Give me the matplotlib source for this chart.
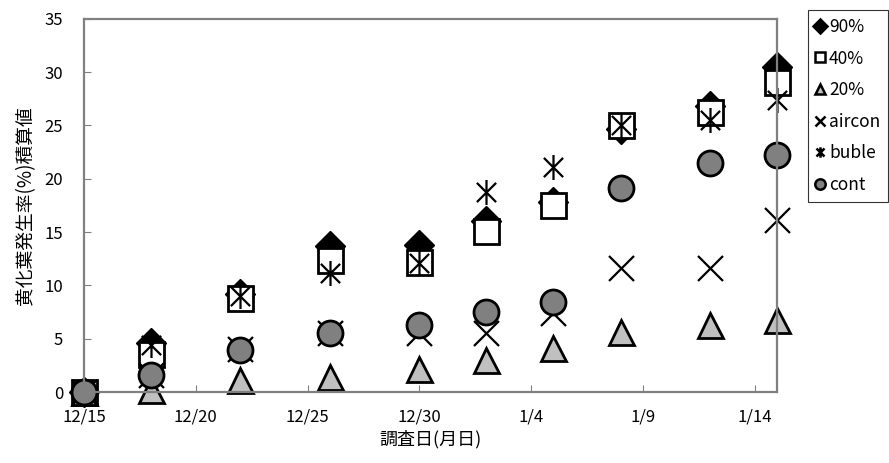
import datetime as dt
import matplotlib
matplotlib.use("Agg")
import matplotlib.pyplot as plt
from matplotlib.path import Path

plt.rcParams['font.family'] = ['Noto Sans CJK JP', 'DejaVu Sans']

# survey dates (month, day)
dates = [(12, 15), (12, 18), (12, 22), (12, 26), (12, 30),
         (1, 2), (1, 5), (1, 8), (1, 12), (1, 15)]

# cumulative yellowing rate (%) per treatment
v90 = [0, 4.6, 9.2, 13.7, 13.8, 16.0, 17.8, 24.7, 26.8, 30.5]
v40 = [0, 3.6, 8.8, 12.4, 12.2, 15.1, 17.5, 25.0, 26.3, 29.1]
v20 = [0, 0.2, 1.1, 1.4, 2.2, 3.0, 4.1, 5.6, 6.3, 6.8]
aircon = [0, 1.6, 4.0, 5.5, 5.5, 5.5, 7.4, 11.6, 11.6, 16.1]
buble = [0, 4.4, 9.0, 11.2, 12.1, 18.8, 21.1, 25.0, 25.5, 27.4]
cont = [0, 1.6, 3.9, 5.5, 6.3, 7.5, 8.4, 19.1, 21.5, 22.2]

tick_dates = [(12, 15), (12, 20), (12, 25), (12, 30), (1, 4), (1, 9), (1, 14)]
tick_labels = ['12/15', '12/20', '12/25', '12/30', '1/4', '1/9', '1/14']


def to_date(md):
    m, d = md
    return dt.date(2007 if m == 12 else 2008, m, d)


x = [to_date(d) for d in dates]

# asterisk marker: X with a vertical stroke
ast = Path([(-1, -1), (1, 1), (-1, 1), (1, -1), (0, -1.3), (0, 1.3)],
           [Path.MOVETO, Path.LINETO, Path.MOVETO, Path.LINETO,
            Path.MOVETO, Path.LINETO])

fig = plt.figure(figsize=(8.89, 4.63), dpi=100)
ax = fig.add_axes([0.0945, 0.1533, 0.7795, 0.806])

ms = 18
kw = dict(linestyle='none', clip_on=False)
ax.plot(x, v90, marker='D', ms=ms * 0.85, mfc='black', mec='black',
        label='90%', **kw)
ax.plot(x, v40, marker='s', ms=ms, mfc='white', mec='black', mew=2,
        label='40%', **kw)
ax.plot(x, v20, marker='^', ms=ms, mfc='#c0c0c0', mec='black', mew=2,
        label='20%', **kw)
ax.plot(x, aircon, marker='x', ms=ms, mec='black', mew=1.6,
        label='aircon', **kw)
ax.plot(x, buble, marker=ast, ms=ms, mec='black', mew=1.6,
        label='buble', **kw)
ax.plot(x, cont, marker='o', ms=ms, mfc='#808080', mec='black', mew=2,
        label='cont', **kw)

ax.set_xlim(to_date((12, 15)), to_date((1, 15)))
ax.set_ylim(0, 35)
ax.set_yticks(range(0, 36, 5))
ax.set_xticks([to_date(d) for d in tick_dates])
ax.set_xticklabels(tick_labels)

for s in ax.spines.values():
    s.set_color('#808080')
    s.set_linewidth(1.6)
ax.tick_params(direction='in', length=5, color='#808080', labelsize=12)
ax.tick_params(axis='y', pad=15)
ax.tick_params(axis='x', pad=12)

ax.set_xlabel('調査日(月日)', fontsize=13, labelpad=3)
ax.set_ylabel('黄化葉発生率(%)積算値', fontsize=13.5, labelpad=6)

leg = ax.legend(loc='upper left', bbox_to_anchor=(0.909, 0.978),
                bbox_transform=fig.transFigure, fontsize=12.5,
                handlelength=0.5, handletextpad=0.25,
                labelspacing=0.78, borderpad=0.45, frameon=True,
                fancybox=False, edgecolor='black', borderaxespad=0)
leg.get_frame().set_linewidth(0.8)
for h in leg.legend_handles:
    h.set_markersize(7.5)
    h.set_markeredgewidth(1.8)

fig.savefig('out.png', dpi=100)
